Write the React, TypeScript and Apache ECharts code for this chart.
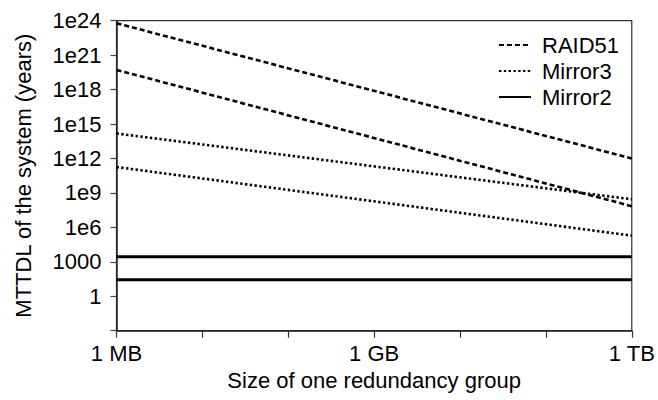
import { useEffect, useRef } from "react";
import * as echarts from "echarts";

// Group size in MB: 1 MB .. 1 TB
const sizeMB = [1, 1e6];

// MTTDL of the system (years) at each end of the size range
const raid51High = [6e23, 1e12];
const raid51Low = [5.2e19, 7e7];
const mirror3High = [1.5e14, 2.8e8];
const mirror3Low = [1.8e11, 1.9e5];
const mirror2High = [2800, 2800];
const mirror2Low = [28, 28];

const seriesNames = ["RAID51", "Mirror3", "Mirror2"];
const sizeLabels: Record<number, string> = { 0: "1 MB", 3: "1 GB", 6: "1 TB" };

const FONT = "'Liberation Sans', Arial, Helvetica, sans-serif";
const FS = 22;

const pairs = (ys: number[]) => sizeMB.map((x, i) => [x, ys[i]]);

export default function App() {
  const ref = useRef<HTMLDivElement>(null);

  useEffect(() => {
    if (!ref.current) return;
    const chart = echarts.init(ref.current, undefined, { renderer: "svg" });

    const dashed = { color: "#000", width: 2.6, type: [5, 3] as number[], cap: "butt" as const };
    const dotted = { color: "#000", width: 2.6, type: [2.4, 2.4] as number[], cap: "butt" as const };
    const solid = { color: "#000", width: 3, type: "solid" as const };

    const mk = (name: string, ys: number[], lineStyle: any) => ({
      name,
      type: "line" as const,
      data: pairs(ys),
      symbol: "none",
      showSymbol: false,
      lineStyle,
      itemStyle: { color: "#000" },
      silent: true,
    });

    chart.setOption({
      animation: false,
      backgroundColor: "#fff",
      textStyle: { fontFamily: FONT },
      grid: {
        left: 116.5,
        top: 20.7,
        width: 516.5,
        height: 310,
        show: true,
        borderColor: "#333",
        borderWidth: 1.2,
        backgroundColor: "transparent",
      },
      legend: {
        data: seriesNames,
        orient: "vertical",
        left: 498,
        top: 34,
        padding: 0,
        itemWidth: 32,
        itemHeight: 14,
        itemGap: 4,
        selectedMode: false,
        itemStyle: { color: "transparent", borderWidth: 0, opacity: 0 },
        textStyle: { fontSize: FS, color: "#000", fontFamily: FONT, padding: [0, 0, 0, 6] },
      },
      xAxis: {
        type: "log",
        logBase: 10,
        min: 1,
        max: 1e6,
        splitNumber: 6,
        name: "Size of one redundancy group",
        nameLocation: "middle",
        nameGap: 39,
        nameTextStyle: { fontSize: FS, color: "#000", fontFamily: FONT },
        axisLine: { show: true, lineStyle: { color: "#222", width: 1.5 } },
        axisTick: { show: true, inside: false, length: 7, lineStyle: { color: "#333", width: 1.2 } },
        axisLabel: {
          fontSize: FS,
          color: "#000",
          fontFamily: FONT,
          margin: 12,
          showMinLabel: true,
          showMaxLabel: true,
          formatter: (v: number) => sizeLabels[Math.round(Math.log10(v))] ?? "",
        },
        splitLine: { show: false },
      },
      yAxis: {
        type: "log",
        logBase: 1000,
        min: 1e-3,
        max: 1e24,
        splitNumber: 9,
        name: "MTTDL of the system (years)",
        nameLocation: "middle",
        nameGap: 82,
        nameTextStyle: { fontSize: FS, color: "#000", fontFamily: FONT },
        axisLine: { show: true, lineStyle: { color: "#222", width: 1.5 } },
        axisTick: { show: true, inside: false, length: 6, lineStyle: { color: "#444", width: 1.2 } },
        axisLabel: {
          fontSize: FS,
          color: "#000",
          fontFamily: FONT,
          margin: 15,
          showMinLabel: true,
          showMaxLabel: true,
          formatter: (v: number) => {
            const e = Math.round(Math.log10(v));
            if (e < 0) return "";
            if (e === 0) return "1";
            if (e === 3) return "1000";
            return "1e" + e;
          },
        },
        splitLine: { show: false },
      },
      series: [
        mk("RAID51", raid51High, dashed),
        mk("RAID51", raid51Low, dashed),
        mk("Mirror3", mirror3High, dotted),
        mk("Mirror3", mirror3Low, dotted),
        mk("Mirror2", mirror2High, solid),
        mk("Mirror2", mirror2Low, solid),
      ],
    });

    return () => chart.dispose();
  }, []);

  return <div ref={ref} style={{ width: 658, height: 400, position: "absolute", left: 0, top: 0 }} />;
}
